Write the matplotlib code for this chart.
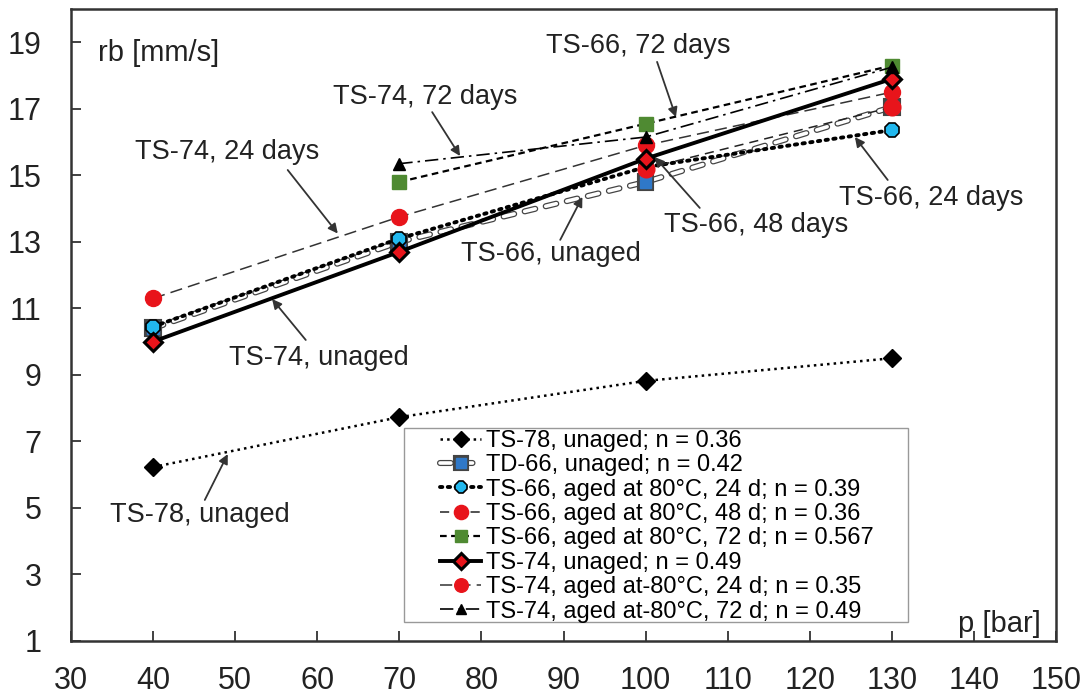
import matplotlib
matplotlib.use("Agg")
import matplotlib.pyplot as plt
import matplotlib.patheffects as pe
from matplotlib.patches import Rectangle

plt.rcParams['font.family'] = ['Liberation Sans', 'DejaVu Sans']

p_all = [40, 70, 100, 130]
p_late = [70, 100, 130]
p_last = [100, 130]

ts78 = [6.23, 7.73, 8.82, 9.5]
td66 = [10.4, 13.0, 14.8, 17.05]
ts66_24 = [10.45, 13.1, 15.25, 16.36]
ts66_48 = [15.2, 17.05]
ts66_72 = [14.8, 16.55, 18.3]
ts74 = [10.0, 12.7, 15.5, 17.9]
ts74_24 = [11.3, 13.75, 15.9, 17.5]
ts74_72 = [15.35, 16.15, 18.25]

labels = [
    "TS-78, unaged; n = 0.36",
    "TD-66, unaged; n = 0.42",
    "TS-66, aged at 80°C, 24 d; n = 0.39",
    "TS-66, aged at 80°C, 48 d; n = 0.36",
    "TS-66, aged at 80°C, 72 d; n = 0.567",
    "TS-74, unaged; n = 0.49",
    "TS-74, aged at-80°C, 24 d; n = 0.35",
    "TS-74, aged at-80°C, 72 d; n = 0.49",
]

annotations = [
    ("TS-74, 24 days", (49.0, 15.70), (56.4, 15.16), (62.5, 13.25)),
    ("TS-74, 72 days", (73.1, 17.36), (74.0, 16.90), (77.4, 15.58)),
    ("TS-66, 72 days", (99.1, 18.89), (101.4, 18.41), (103.7, 16.75)),
    ("TS-66, 24 days", (134.8, 14.32), (129.5, 14.86), (125.5, 16.15)),
    ("TS-66, 48 days", (113.5, 13.51), (106.6, 14.02), (101.1, 15.55)),
    ("TS-66, unaged", (88.5, 12.64), (89.6, 13.06), (92.3, 14.35)),
    ("TS-74, unaged", (60.2, 9.51), (58.6, 10.05), (54.5, 11.28)),
    ("TS-78, unaged", (45.7, 4.79), (46.3, 5.24), (49.1, 6.62)),
]

RED = '#e8141b'
GREEN = '#4f8a32'
BLUE = '#2f78c8'
CYAN = '#22b8ee'

fig = plt.figure(figsize=(10.89, 6.97), dpi=100)
ax = fig.add_axes([71/1089, 56/697, 985/1089, 632/697])

ax.plot(p_all, ts78, linestyle=':', color='black', lw=1.8, marker='D',
        ms=9.5, mfc='black', mec='black', label=labels[0], zorder=3)
ax.plot(p_all, td66, linestyle=(0, (3, 3)), color='white', lw=2.6,
        dash_capstyle='round', marker='s', ms=8.5, mfc=BLUE, mec=BLUE,
        path_effects=[pe.Stroke(linewidth=4.4, foreground='#444444'), pe.Normal()],
        label=labels[1], zorder=3)
ax.plot(p_all, ts66_24, linestyle=(0, (0.6, 1.4)), color='black', lw=2.8,
        dash_capstyle='round', marker='8', ms=11, mfc=CYAN, mec='black', mew=1.2,
        label=labels[2], zorder=4)
ax.plot(p_last, ts66_48, linestyle=(0, (6, 4)), color='#222222', lw=1.1,
        marker='o', ms=12, mfc=RED, mec=RED, label=labels[3], zorder=4)
ax.plot(p_late, ts66_72, linestyle=(0, (3, 2)), color='black', lw=1.6,
        marker='s', ms=10.5, mfc=GREEN, mec=GREEN, label=labels[4], zorder=4)
ax.plot(p_all, ts74, linestyle='-', color='black', lw=2.8,
        marker='D', ms=9.5, mfc=RED, mec='black', mew=2.2, label=labels[5], zorder=5)
ax.plot(p_all, ts74_24, linestyle=(0, (8, 4)), color='#333333', lw=1.1,
        marker='o', ms=11.5, mfc=RED, mec=RED, label=labels[6], zorder=4)
ax.plot(p_late, ts74_72, linestyle=(0, (8, 3, 1.5, 3)), color='black', lw=1.2,
        marker='^', ms=9, mfc='black', mec='black', label=labels[7], zorder=6)

for txt, tpos, start, tip in annotations:
    ax.text(tpos[0], tpos[1], txt, fontsize=19.5, color='#222222',
            ha='center', va='center', zorder=7)
    ax.annotate('', xy=tip, xytext=start,
                arrowprops=dict(arrowstyle='-|>', color='#333333', lw=1.3,
                                mutation_scale=14, shrinkA=0, shrinkB=0),
                zorder=7)

ax.text(33.3, 18.68, "rb [mm/s]", fontsize=21, color='#222222', ha='left', va='center')
ax.text(148.2, 1.5, "p [bar]", fontsize=21, color='#222222', ha='right', va='center')

ax.set_xlim(30, 150)
ax.set_ylim(1, 20)
ax.set_xticks(range(30, 151, 10))
ax.set_yticks(range(1, 20, 2))
ax.tick_params(axis='both', direction='in', length=7, width=1.3, colors='#333333',
               labelsize=22, labelcolor='#222222')
ax.tick_params(axis='x', pad=18)
ax.tick_params(axis='y', pad=21)
for s in ax.spines.values():
    s.set_linewidth(1.8)
    s.set_color('#333333')

# legend frame (fixed-size box) and legend content
x0 = (404 - 71) / 985
x1 = (908 - 71) / 985
y1 = (641 - 428) / 632
y0 = (641 - 622) / 632
ax.add_patch(Rectangle((x0, y0), x1 - x0, y1 - y0, transform=ax.transAxes,
                       facecolor='white', edgecolor='#999999', lw=1.0, zorder=8))
leg = ax.legend(loc='upper left', bbox_to_anchor=((440 - 71) / 985, (641 - 430) / 632),
                fontsize=17, labelspacing=0.10, handlelength=1.75,
                handletextpad=0.2, borderpad=0, frameon=False,
                borderaxespad=0, markerscale=0.85)
leg.set_zorder(9)

fig.savefig('out.png', dpi=100)
